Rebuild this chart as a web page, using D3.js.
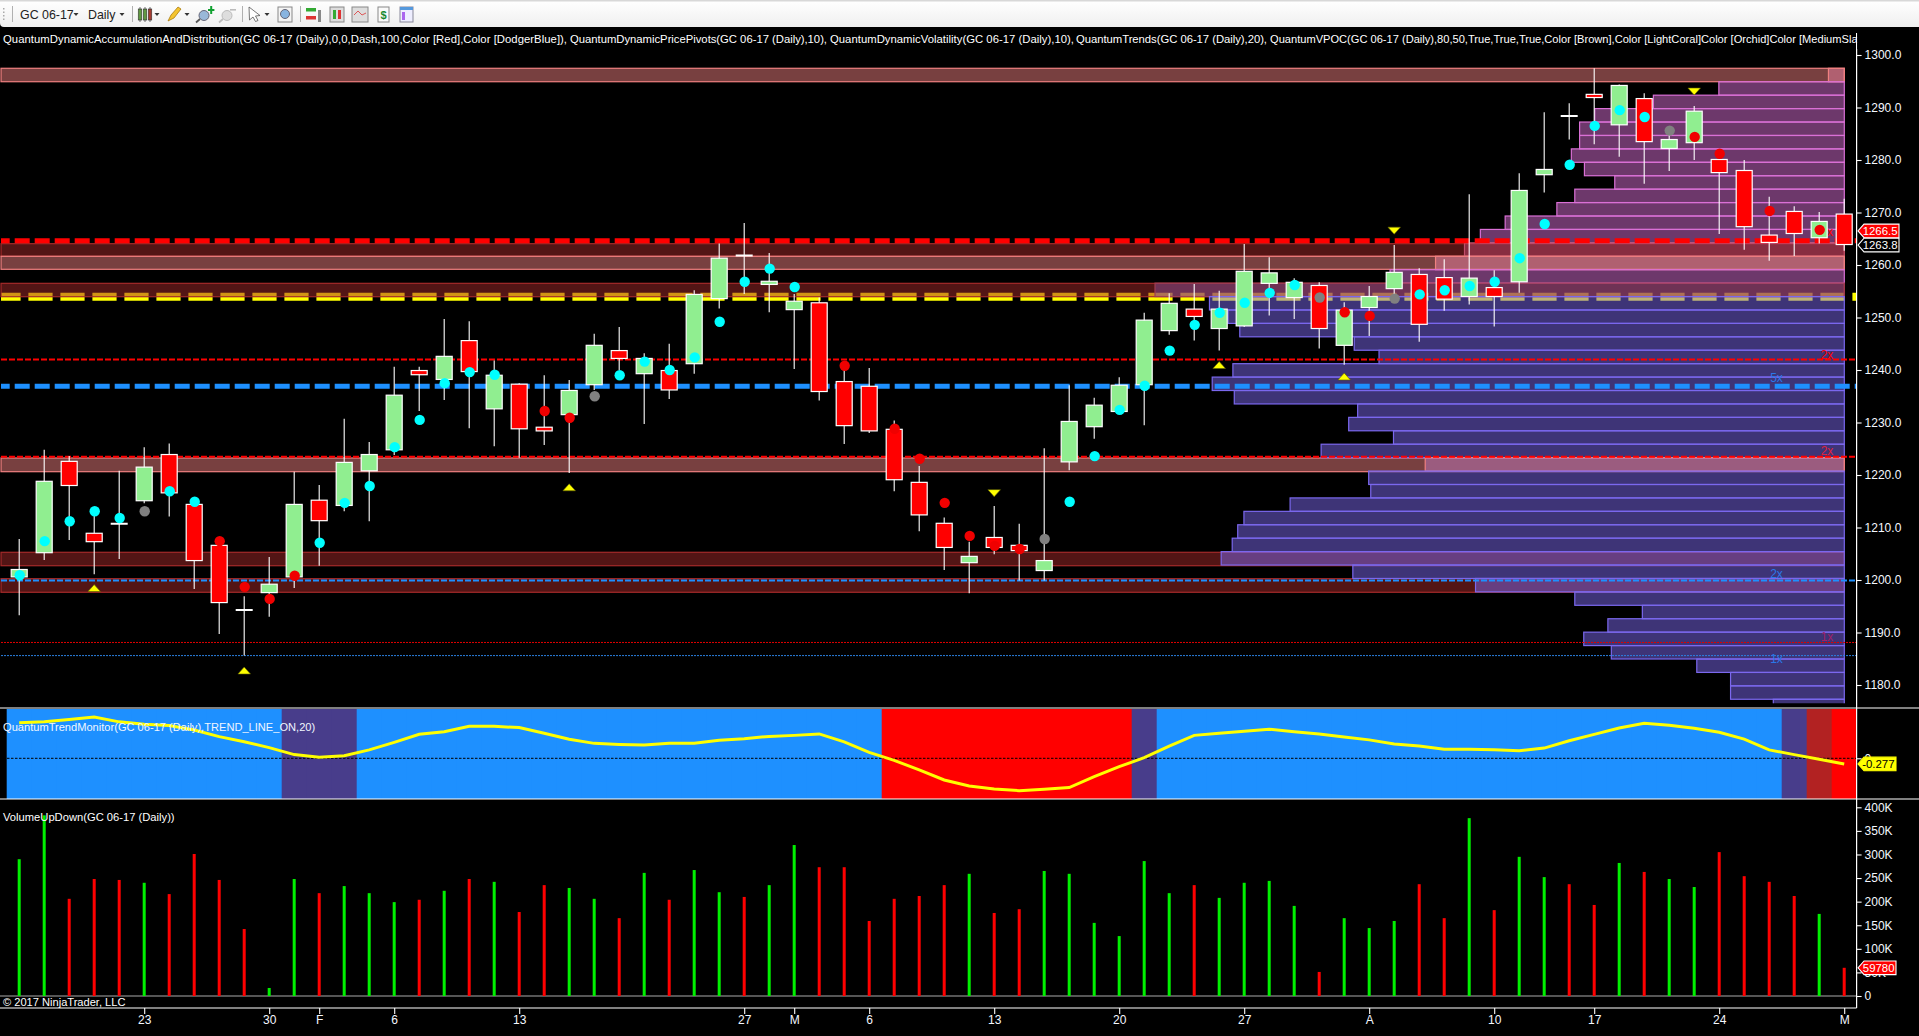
<!DOCTYPE html>
<html><head><meta charset="utf-8">
<script src="https://cdn.jsdelivr.net/npm/d3@7"></script>
<style>
html,body{margin:0;padding:0;background:#000;overflow:hidden}
svg{display:block;font-family:"Liberation Sans",Arial,sans-serif}
</style></head><body><svg id="c" width="1919" height="1036"></svg>
<script>
// ---------- DATA ----------
const highs=[1207.8,1224.8,1223.6,1213.5,1220.8,1225.3,1226.0,1214.5,1207.0,1196.9,1204.4,1220.6,1218.1,1230.7,1226.3,1240.6,1240.6,1249.7,1249.3,1241.8,1237.5,1239.0,1238.1,1246.9,1248.2,1243.2,1245.0,1255.2,1264.1,1268.0,1262.3,1254.5,1253.8,1241.0,1240.4,1230.4,1221.7,1211.9,1207.3,1214.1,1210.7,1225.1,1237.1,1234.7,1238.6,1250.9,1254.6,1256.4,1255.1,1264.0,1261.5,1257.5,1256.7,1252.9,1256.0,1263.8,1259.4,1261.1,1273.5,1259.0,1277.5,1289.1,1290.8,1297.5,1294.4,1292.7,1285.0,1290.3,1280.1,1280.0,1273.0,1271.2,1270.1,1272.6];
const lows=[1193.3,1203.8,1207.6,1201.1,1204.0,1214.6,1212.1,1198.3,1189.7,1185.6,1193.0,1198.5,1202.7,1213.1,1211.2,1223.8,1232.2,1234.3,1228.9,1225.5,1223.3,1225.7,1220.4,1236.2,1240.0,1229.7,1234.5,1239.3,1251.7,1254.5,1251.0,1240.2,1234.2,1225.9,1228.0,1216.9,1209.3,1201.9,1197.5,1204.9,1199.9,1199.9,1220.9,1226.9,1232.1,1229.5,1246.7,1245.6,1243.7,1248.2,1250.4,1249.7,1244.1,1241.0,1246.5,1253.6,1245.4,1251.3,1252.5,1248.3,1254.7,1273.8,1283.9,1283.0,1280.6,1275.5,1277.9,1280.0,1265.9,1262.9,1260.8,1261.7,1264.1,1262.7];
const opens=[1200.6,1205.2,1222.6,1208.9,1210.7,1215.1,1223.9,1214.4,1206.6,1194.3,1197.6,1200.6,1215.2,1214.2,1220.8,1224.8,1239.9,1238.2,1245.6,1232.6,1237.3,1229.1,1231.5,1237.2,1243.7,1239.3,1239.9,1241.2,1253.6,1261.8,1256.3,1251.5,1252.8,1237.8,1236.9,1228.7,1218.6,1210.8,1203.3,1208.1,1206.6,1201.8,1222.5,1229.2,1232.1,1237.2,1247.5,1251.6,1247.9,1248.4,1256.5,1253.8,1256.1,1244.7,1251.9,1255.5,1258.2,1257.6,1254.0,1255.7,1256.8,1277.2,1288.4,1292.5,1286.7,1291.7,1282.2,1283.3,1280.1,1278.0,1265.7,1270.2,1265.2,1269.7];
const closes=[1202.0,1218.8,1218.0,1207.3,1210.7,1221.5,1216.6,1203.7,1195.7,1194.3,1199.2,1214.4,1211.3,1222.4,1223.9,1235.2,1239.1,1242.6,1239.7,1239.0,1228.8,1228.4,1236.1,1244.7,1242.2,1242.2,1236.2,1254.4,1261.3,1261.8,1256.9,1253.1,1235.9,1229.4,1228.4,1219.1,1212.4,1206.2,1204.5,1206.2,1205.6,1203.7,1230.2,1233.3,1237.1,1249.5,1252.7,1250.2,1251.6,1258.8,1258.5,1256.7,1247.9,1251.4,1254.0,1258.6,1248.7,1253.5,1257.5,1254.0,1274.2,1278.2,1288.4,1291.9,1294.2,1283.5,1283.9,1289.3,1277.6,1267.3,1264.3,1266.0,1268.3,1263.9];
const pivotValues=[1200.9,1207.4,1211.2,1213.1,1211.8,1213.1,1216.9,1214.9,1207.4,1198.7,1196.4,1200.8,1207.1,1214.7,1217.9,1225.3,1230.5,1237.5,1239.6,1239.1,null,1232.2,1230.9,1235.0,1239.0,1241.6,1240.0,1242.4,1249.2,1256.8,1259.3,1255.8,null,1240.8,null,1228.8,1223.1,1214.7,1208.4,1206.5,1205.9,1207.8,1214.9,1223.6,1232.4,1237.0,1243.7,1248.6,1250.9,1252.8,1254.7,1256.2,1253.8,1251.0,1250.3,1253.6,1254.4,1255.2,1256.0,1256.8,1261.3,1267.8,1279.1,1286.5,1289.5,1288.2,1285.6,1284.4,1281.2,null,1270.3,null,1266.7,null];
// c = cyan, r = red, g = grey, - = no pivot
const pivotKinds="cccccgccrrrrcccccccc-rrgcccccccc-r-rrrrrrgccccccccccgrrgccccccccccgrr-r-r-";
const upSignals=[[3,1198.4],[9,1182.7],[22,1217.6],[48,1240.9],[53,1238.7]];
const downSignals=[[39,1216.6],[55,1266.6],[67,1293.1]];
const volumes=[290,383,206,248,246,240,216,301,246,142,17,248,218,233,218,199,204,223,248,242,178,235,229,206,165,261,204,267,220,210,235,320,273,273,159,206,212,235,259,176,184,265,259,155,127,286,218,235,208,240,244,191,51,165,144,159,237,165,377,182,295,252,237,193,282,263,248,231,305,254,242,212,174,59.78];
const trendLine=[1.74,1.78,1.89,2.02,1.78,1.66,1.60,1.38,1.06,.81,.52,.18,.05,.13,.41,.78,1.17,1.30,1.56,1.56,1.50,1.22,.93,.73,.68,.65,.73,.73,.88,.96,1.07,1.12,1.19,.80,.29,-.10,-.57,-1.06,-1.35,-1.50,-1.58,-1.51,-1.43,-.90,-.41,.03,.60,1.12,1.22,1.32,1.42,1.30,1.19,1.04,.90,.70,.60,.44,.44,.42,.37,.50,.86,1.17,1.48,1.71,1.61,1.47,1.27,.94,.41,.18,-.05,-.277];
// trend state per bar: b=blue p=purple r=red f=firebrick
const trendStates="bbbbbbbbbbbpppbbbbbbbbbbbbbbbbbbbbbrrrrrrrrrrpbbbbbbbbbbbbbbbbbbbbbbbbbpfr";
const xTicks=[[5,"23"],[10,"30"],[12,"F"],[15,"6"],[20,"13"],[29,"27"],[31,"M"],[34,"6"],[39,"13"],[44,"20"],[49,"27"],[54,"A"],[59,"10"],[63,"17"],[68,"24"],[73,"M"]];
const priceTicks=[1300,1290,1280,1270,1260,1250,1240,1230,1220,1210,1200,1190,1180];
const volumeTicks=[0,50,100,150,200,250,300,350,400];
// volume profile, % of largest bin, top bin first
const profileTop=1297.46, profileStep=2.557;
const profile=[2.3,18.2,27.7,36.2,38.4,38.4,39.6,37.7,33.3,39.1,41.7,49.2,52.8,55.1,59.3,65.9,100,92.1,89.4,87.7,71.1,67.5,88.7,91.7,88.5,70.6,71.9,65.4,75.9,60.8,69,68.7,80.4,87.1,88,88.8,90.4,71.3,53.5,39.1,29.3,34.3,37.8,33.8,21.4,16.5,16.5,10.3];
const profileKinds="COOOOOOOOOOOOHCOMSSSSSSSSSSSSPSSSSSSSSSSSSSSSSSS";
// levels
const coralBands=[[1297.47,1294.91],[1261.66,1259.18],[1223.24,1220.63]];
const brownBands=[[1264.06,1261.66],[1256.51,1253.96],[1205.28,1202.72],[1200.25,1197.66]];
const yellowLevel=1253.96, redMajor=1264.6, blueMajor=1236.9;
const redMinor=[1242.0,1223.5], blueMinor=[1199.9], redFine=1188.1, blueFine=1185.6;
const levelLabels=[["2x",1242.9,"red",1],["5x",1266.4,"red",1],["2x",1224.7,"#e0203c",1],["5x",1238.6,"#2a78e8",0],["2x",1201.2,"#2a78e8",0],["1x",1189.2,"#a0206a",1],["1x",1184.9,"#2a78e8",0]];
const legendParts=["QuantumDynamicAccumulationAndDistribution(GC 06-17 (Daily),0,0,Dash,100,Color [Red],Color [DodgerBlue]),","QuantumDynamicPricePivots(GC 06-17 (Daily),10),","QuantumDynamicVolatility(GC 06-17 (Daily),10),","QuantumTrends(GC 06-17 (Daily),20),","QuantumVPOC(GC 06-17 (Daily),80,50,True,True,True,Color [Brown],Color [LightCoral]Color [Orchid]Color [MediumSlateBlue])"];
const legendTrend="QuantumTrendMonitor(GC 06-17 (Daily),TREND_LINE_ON,20)";
const legendVolume="VolumeUpDown(GC 06-17 (Daily))";
const copyright="\u00a9 2017 NinjaTrader, LLC";
const lastPrice=1266.5, askPrice=1263.8;

// ---------- LAYOUT ----------
const W=1919,H=1036,axisX=1856.6,plotRight=1844.3;
const legendStart=[3,570,830,1076,1270], legendWidth=[564,257,244,191,null];
const svg=d3.select("#c");
const x=d3.scaleLinear().domain([0,73]).range([19.2,1844.2]);
const y=d3.scaleLinear().domain([1300,1180]).range([55,685]);
const yT=d3.scaleLinear().domain([0,1]).range([758.3,737.83]);
const yV=d3.scaleLinear().domain([0,400]).range([996,807.3]);
const pw=d3.scaleLinear().domain([0,100]).range([plotRight,1155]);
const txt="#f4f8ff";

svg.append("rect").attr("width",W).attr("height",H).attr("fill","#000");
const defs=svg.append("defs");
defs.append("clipPath").attr("id","main").append("rect").attr("x",0).attr("y",27).attr("width",axisX).attr("height",676.3);
const grad=defs.append("linearGradient").attr("id","tb").attr("x1",0).attr("y1",0).attr("x2",0).attr("y2",1);
grad.append("stop").attr("offset",0).attr("stop-color","#ffffff");
grad.append("stop").attr("offset",1).attr("stop-color","#efefef");

const main=svg.append("g").attr("clip-path","url(#main)");
const hline=(g,p,sc,col,w,dash,off)=>g.append("line").attr("x1",1).attr("x2",axisX).attr("y1",sc(p)).attr("y2",sc(p)).attr("stroke",col).attr("stroke-width",w).attr("stroke-dasharray",dash).attr("stroke-dashoffset",off||0);

// yellow level sits under the bands
hline(main,yellowLevel,y,"#ffff00",8,"24.2,7.8",4.6);
// bands
main.selectAll(".bb").data(brownBands).join("rect").attr("x",1).attr("width",plotRight-1)
 .attr("y",d=>y(d[0])).attr("height",d=>y(d[1])-y(d[0])).attr("fill","rgba(165,42,42,.5)").attr("stroke","#a52a2a").attr("stroke-width",1.2);
main.selectAll(".cb").data(coralBands).join("rect").attr("x",1).attr("width",plotRight-1)
 .attr("y",d=>y(d[0])).attr("height",d=>y(d[1])-y(d[0])).attr("fill","rgba(240,128,128,.5)").attr("stroke","#f08080").attr("stroke-width",1.2);
// volume profile
const pFill={O:"rgba(218,112,214,.5)",S:"rgba(123,104,238,.5)",C:"rgba(232,128,160,.5)",P:"rgba(190,120,190,.5)",H:"rgba(190,70,110,.5)",M:"rgba(140,80,150,.5)"};
const pStroke={O:"#da70d6",S:"#7b68ee",C:"#f08080",P:"#f08080",H:"#c0506a",M:"#a03c50"};
main.selectAll(".pb").data(profile).join("rect")
 .attr("x",d=>pw(d)).attr("width",d=>plotRight-pw(d))
 .attr("y",(d,i)=>y(profileTop-i*profileStep))
 .attr("height",y(0)-y(profileStep))
 .attr("fill",(d,i)=>pFill[profileKinds[i]])
 .attr("stroke",(d,i)=>pStroke[profileKinds[i]]).attr("stroke-width",1.2);
// price levels
hline(main,redMajor,y,"#ff0000",5,"15,5",6.3);
hline(main,blueMajor,y,"#1e90ff",5,"15,5",6.3);
redMinor.forEach(p=>hline(main,p,y,"#ff0000",2,"6,2"));
blueMinor.forEach(p=>hline(main,p,y,"#1e90ff",2,"6,2"));
hline(main,redFine,y,"#e00000",1,"2,1");
hline(main,blueFine,y,"#2a80e0",1,"2,1");
main.selectAll(".lv").data(levelLabels).join("text").text(d=>d[0])
 .attr("x",d=>d[3]?1827:1776.5).attr("y",d=>y(d[1])).attr("dy","0.35em").attr("text-anchor","middle")
 .attr("font-size",12).attr("fill",d=>d[2]);

// candles
const candles=highs.map((h,i)=>({i,h,l:lows[i],o:opens[i],c:closes[i]}));
const cg=main.append("g");
cg.selectAll(".w").data(candles).join("line").attr("x1",d=>x(d.i)).attr("x2",d=>x(d.i))
 .attr("y1",d=>y(d.h)).attr("y2",d=>y(d.l)).attr("stroke","#fff").attr("stroke-width",1.1);
cg.selectAll(".b").data(candles.filter(d=>d.o!==d.c)).join("rect")
 .attr("x",d=>x(d.i)-8).attr("width",16)
 .attr("y",d=>y(Math.max(d.o,d.c))).attr("height",d=>y(Math.min(d.o,d.c))-y(Math.max(d.o,d.c)))
 .attr("fill",d=>d.c>d.o?"#90ee90":"#ff0000").attr("stroke","#fff").attr("stroke-width",1.2);
cg.selectAll(".d").data(candles.filter(d=>d.o===d.c)).join("line")
 .attr("x1",d=>x(d.i)-8.5).attr("x2",d=>x(d.i)+8.5).attr("y1",d=>y(d.o)).attr("y2",d=>y(d.o))
 .attr("stroke","#fff").attr("stroke-width",2);
// pivots
const kindCol={c:"#00ffff",r:"#f00000",g:"#808080"};
main.selectAll(".pv").data(pivotValues.map((v,i)=>({v,i})).filter(d=>d.v!=null)).join("ellipse")
 .attr("cx",d=>x(d.i)+.5).attr("cy",d=>y(d.v)).attr("rx",5.2).attr("ry",5.2).attr("fill",d=>kindCol[pivotKinds[d.i]]);
// signal triangles
main.selectAll(".up").data(upSignals).join("path")
 .attr("transform",d=>`translate(${x(d[0])},${y(d[1])})`).attr("d","M0,-3.8L6.3,3.2H-6.3Z")
 .attr("fill","#ffff00").attr("stroke","#5a5a00").attr("stroke-width",.6);
main.selectAll(".dn").data(downSignals).join("path")
 .attr("transform",d=>`translate(${x(d[0])},${y(d[1])})`).attr("d","M0,3.8L6.3,-3.2H-6.3Z")
 .attr("fill","#ffff00").attr("stroke","#5a5a00").attr("stroke-width",.6);

// trend panel
const barW=x(1)-x(0);
const stCol={b:"#1e90ff",p:"#483d8b",r:"#ff0000",f:"#b22222"};
svg.append("g").selectAll("rect").data(trendLine).join("rect")
 .attr("x",(d,i)=>x(i)-barW/2).attr("width",(d,i)=>i===73?axisX-(x(i)-barW/2):barW+.4).attr("y",709).attr("height",90)
 .attr("fill",(d,i)=>stCol[trendStates[i]]);
svg.append("line").attr("x1",7).attr("x2",axisX).attr("y1",yT(0)).attr("y2",yT(0)).attr("stroke","#000").attr("stroke-width",1).attr("stroke-dasharray","2.5,1.5");
svg.append("path").datum(trendLine).attr("fill","none").attr("stroke","#ffff00").attr("stroke-width",3)
 .attr("d",d3.line().x((d,i)=>x(i)).y(d=>yT(d)));

// volume
svg.append("line").attr("x1",0).attr("x2",axisX).attr("y1",yV(0)).attr("y2",yV(0)).attr("stroke","#aaa").attr("stroke-width",1);
svg.append("g").selectAll("rect").data(volumes).join("rect")
 .attr("x",(d,i)=>x(i)-1.5).attr("width",3).attr("y",d=>yV(d)).attr("height",d=>yV(0)-yV(d))
 .attr("fill",(d,i)=>closes[i]>opens[i]?"#00f000":"#ff0000");

// frame lines
[[708,W],[799,W],[1008,axisX]].forEach(([yy,xe])=>svg.append("line").attr("x1",0).attr("x2",xe).attr("y1",yy).attr("y2",yy).attr("stroke","#fff").attr("stroke-width",1.2));
svg.append("line").attr("x1",axisX).attr("x2",axisX).attr("y1",33).attr("y2",1008).attr("stroke","#fff").attr("stroke-width",1.2);

// axes
function styleAxis(g){
 g.select(".domain").remove();
 g.selectAll("line").attr("stroke","#fff").attr("stroke-width",1.1);
 g.selectAll("text").attr("fill",txt).attr("font-size",12).attr("font-family",'"Liberation Sans",Arial,sans-serif');
}
svg.append("g").attr("transform",`translate(${axisX},0)`).call(d3.axisRight(y).tickValues(priceTicks).tickFormat(d3.format(".1f")).tickSize(5).tickPadding(3)).call(styleAxis);
svg.append("g").attr("transform",`translate(${axisX},0)`).call(d3.axisRight(yV).tickValues(volumeTicks).tickFormat(d=>d?d+"K":"0").tickSize(5).tickPadding(3)).call(styleAxis);
svg.append("g").attr("transform",`translate(${axisX},0)`).call(d3.axisRight(yT).tickValues([0]).tickFormat(d=>"0").tickSize(5).tickPadding(3)).call(styleAxis);
const tickMap=new Map(xTicks);
svg.append("g").attr("transform","translate(0,1008)").call(d3.axisBottom(x).tickValues(xTicks.map(d=>d[0])).tickFormat(d=>tickMap.get(d)).tickSize(6).tickPadding(1)).call(styleAxis);

// value tags
function tag(yy,fill,stroke,col,label,wid){
 const g=svg.append("g").attr("transform",`translate(1858,${yy})`);
 g.append("path").attr("d",`M0,0L6,-6.8H${wid}V6.8H6Z`).attr("fill",fill).attr("stroke",stroke).attr("stroke-width",1.1);
 g.append("text").attr("x",wid-1.5).attr("dy","0.36em").attr("text-anchor","end").attr("font-size",11.4).attr("fill",col).text(label);
}
tag(y(lastPrice),"#ff0000","#fff","#fff",d3.format(".1f")(lastPrice),41);
tag(y(askPrice),"#000","#fff","#fff",d3.format(".1f")(askPrice),41);
tag(yT(trendLine[73]),"#ffff00","#ffff00","#000",String(trendLine[73]),38);
tag(yV(volumes[73]),"#ff0000","#fff","#fff",String(Math.round(volumes[73]*1000)),38);

// legends
const legG=svg.append("g");
legendParts.forEach((s,i)=>{
 const t=legG.append("text").attr("x",legendStart[i]).attr("y",43).attr("font-size",i===4?11.1:11.3).attr("fill","#fff").text(s);
 if(legendWidth[i]) t.attr("textLength",legendWidth[i]).attr("lengthAdjust","spacing");
});
// black cover hides the overflow of the last legend past the axis
svg.append("rect").attr("x",axisX+.6).attr("y",27).attr("width",W-axisX).attr("height",22).attr("fill","#000");
svg.append("text").attr("x",3).attr("y",731).attr("font-size",11.1).attr("fill","#f0f6ff").text(legendTrend);
svg.append("text").attr("x",3).attr("y",821).attr("font-size",11.2).attr("fill","#fff").text(legendVolume);
svg.append("text").attr("x",3).attr("y",1006).attr("font-size",11.1).attr("fill","#fff").text(copyright);

// toolbar (decoration)
const tb=svg.append("g");
tb.append("path").attr("d",`M0,1H${W}V27H4Q0,27 0,23Z`).attr("fill","url(#tb)");
tb.append("rect").attr("width",W).attr("height",1.5).attr("fill","#d8d8d8");
[12,132,242,300].forEach(xx=>tb.append("line").attr("x1",xx+.5).attr("x2",xx+.5).attr("y1",6).attr("y2",22).attr("stroke","#b0b0b0"));
for(let k=0;k<4;k++) tb.append("rect").attr("x",3).attr("y",8+k*3.5).attr("width",1.5).attr("height",1.5).attr("fill","#aaa");
tb.append("text").attr("x",20).attr("y",18.5).attr("font-size",12.4).attr("fill","#222").text("GC 06-17");
tb.append("text").attr("x",88).attr("y",18.5).attr("font-size",12.4).attr("fill","#222").text("Daily");
[76,122,157,187,267].forEach(a=>tb.append("path").attr("d",`M${a-2.5},13H${a+2.5}L${a},16Z`).attr("fill","#333"));
// candle icon
[[140,"#7ad04a"],[145,"#7ad04a"],[150,"#e04030"]].forEach(([a,c])=>{tb.append("rect").attr("x",a-1.7).attr("y",9).attr("width",3.4).attr("height",11).attr("fill",c).attr("stroke","#333").attr("stroke-width",.7);tb.append("line").attr("x1",a).attr("x2",a).attr("y1",7).attr("y2",22).attr("stroke","#333").attr("stroke-width",.7);});
// pencil
tb.append("path").attr("d","M168,21L171,15L178,7L181,9L174,18Z").attr("fill","#f4c430").attr("stroke","#a07000").attr("stroke-width",.7);
// zoom in/out
[[204,1],[227,0]].forEach(([a,on])=>{tb.append("circle").attr("cx",a).attr("cy",15.5).attr("r",5).attr("fill",on?"#9ab8d8":"#ddd").attr("stroke",on?"#667":"#bbb");tb.append("line").attr("x1",a-4).attr("x2",a-8).attr("y1",19).attr("y2",22.5).attr("stroke",on?"#555":"#bbb").attr("stroke-width",1.8);});
tb.append("path").attr("d","M208,9h2.2v-3h2v3h2.2v2h-2.2v3h-2v-3h-2.2z").attr("fill","#10a030");
tb.append("rect").attr("x",230).attr("y",9).attr("width",6).attr("height",1.6).attr("fill","#bbb");
// cursor
tb.append("path").attr("d","M249,7L260,15.5L255.5,16L258,20.5L255.5,21.5L253,17L249.5,20Z").attr("fill","#fff").attr("stroke","#555").attr("stroke-width",.8);
// magnifier doc
tb.append("rect").attr("x",278).attr("y",7).attr("width",14).attr("height",15).attr("fill","#f4f4f4").attr("stroke","#888");
tb.append("circle").attr("cx",285).attr("cy",14).attr("r",4.5).attr("fill","#88b4e0").attr("stroke","#667");
// strategy / chart / data icons
tb.append("rect").attr("x",306).attr("y",8).attr("width",10).attr("height",3.5).attr("fill","#3a3");
tb.append("rect").attr("x",306).attr("y",16).attr("width",10).attr("height",3.5).attr("fill","#d33");
tb.append("rect").attr("x",318).attr("y",10).attr("width",3).attr("height",12).attr("fill","#888");
tb.append("rect").attr("x",330).attr("y",7).attr("width",14).attr("height",15).attr("fill","#ddd").attr("stroke","#888");
tb.append("rect").attr("x",333).attr("y",10).attr("width",3).attr("height",9).attr("fill","#3a3");
tb.append("rect").attr("x",338).attr("y",10).attr("width",3).attr("height",9).attr("fill","#d33");
tb.append("rect").attr("x",352).attr("y",7).attr("width",16).attr("height",15).attr("fill","#ddd").attr("stroke","#888");
tb.append("path").attr("d","M354,15L358,11L362,15L366,13").attr("fill","none").attr("stroke","#d55");
tb.append("rect").attr("x",378).attr("y",7).attr("width",11).attr("height",15).attr("fill","#fafafa").attr("stroke","#888");
tb.append("text").attr("x",380.5).attr("y",19).attr("font-size",11).attr("font-weight","bold").attr("fill","#1a8a30").text("$");
tb.append("rect").attr("x",400).attr("y",7).attr("width",13).attr("height",15).attr("fill","#eef").attr("stroke","#889");
tb.append("rect").attr("x",400).attr("y",7).attr("width",13).attr("height",3).attr("fill","#59d");
tb.append("rect").attr("x",402).attr("y",12).attr("width",3).attr("height",8).attr("fill","#a6e");
</script></body></html>
